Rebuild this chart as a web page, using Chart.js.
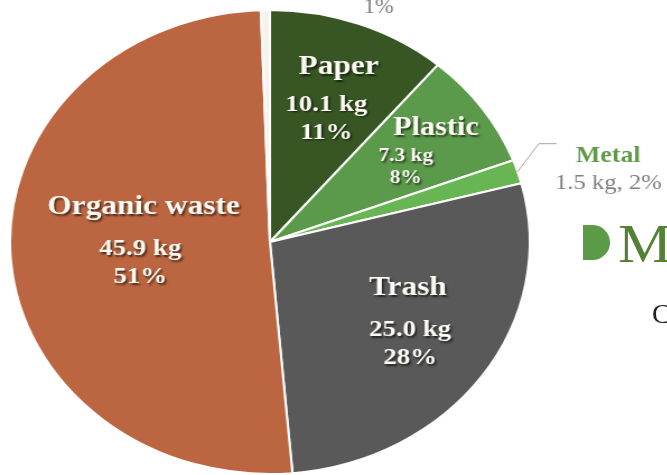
<!DOCTYPE html>
<html>
<head>
<meta charset="utf-8">
<script src="https://cdn.jsdelivr.net/npm/chart.js@4.4.0/dist/chart.umd.min.js"></script>
<style>
  html, body { margin: 0; padding: 0; background: #fff; }
  body { width: 667px; height: 475px; overflow: hidden; position: relative; font-family: 'Liberation Serif', 'Times New Roman', serif; }
  #wrap { position: absolute; left: 0; top: 0; width: 596px; height: 475px; transform: scaleX(1.12); transform-origin: 0 0; }
  .pieIcon { position: absolute; left: 583px; top: 225px; width: 27px; height: 35px; background: #5b9a46; border-radius: 0 18px 18px 0 / 0 18px 18px 0; }
  .bigM { position: absolute; left: 618px; top: 217px; font-size: 54px; line-height: 54px; color: #548235; white-space: nowrap; transform: scaleX(1.12); transform-origin: 0 0; }
  .bigC { position: absolute; left: 652px; top: 300px; font-size: 28px; line-height: 28px; color: #222; white-space: nowrap; }
</style>
</head>
<body>
<div id="wrap"><canvas id="wasteChart"></canvas></div>
<div class="pieIcon"></div>
<div class="bigM">M</div>
<div class="bigC">C</div>
<script>
// Waste composition (kg), clockwise from 12 o'clock
const categories = ['Paper', 'Plastic', 'Metal', 'Trash', 'Organic waste', ''];
const weights = [10.1, 7.3, 1.5, 25.0, 45.9, 0.5];
const sliceColors = ['#375623', '#5c9a4b', '#67b553', '#595959', '#bb6640', '#f8f3ea'];

const serif = "'Liberation Serif', 'Times New Roman', serif";

// how each slice gets labelled
const labelStyle = [
    { mode: 'in', f: 0.63, nameSize: 28, numSize: 24, nameDx: 11, nameDy: -38, pctDy: 28 },
    { mode: 'in', f: 0.64, nameSize: 27, numSize: 19, nameDx: 27, nameDy: -28, pctDy: 22 },
    { mode: 'out', elbowDx: 19, elbowDy: -28, lineEnd: 35, textDx: 81, nameDy: -10, numDy: 17 },
    { mode: 'in', f: 0.66, nameSize: 28, numSize: 24, nameDx: -2, nameDy: -42, pctDy: 28 },
    { mode: 'in', f: 0.50, nameSize: 28, numSize: 24, nameDx: 3, nameDy: -42, pctDy: 28 },
    { mode: 'top', textDx: 101, textDy: 3 }
];

const total = weights.reduce((a, b) => a + b, 0);

const sliceLabels = {
    id: 'sliceLabels',
    afterDatasetsDraw(chart) {
        const ctx = chart.ctx;
        const arcs = chart.getDatasetMeta(0).data;
        arcs.forEach((arc, i) => {
            const s = labelStyle[i];
            const mid = (arc.startAngle + arc.endAngle) / 2;
            const r = arc.outerRadius;
            const pct = Math.round(weights[i] / total * 100) + '%';
            const kg = weights[i].toFixed(1) + ' kg';
            ctx.save();
            ctx.textAlign = 'center';
            ctx.textBaseline = 'middle';
            if (s.mode === 'in') {
                const x = arc.x + Math.cos(mid) * r * s.f;
                const y = arc.y + Math.sin(mid) * r * s.f;
                ctx.fillStyle = '#fdfbf4';
                ctx.shadowColor = 'rgba(0,0,0,0.6)';
                ctx.shadowOffsetX = 1.5;
                ctx.shadowOffsetY = 1.5;
                ctx.shadowBlur = 2;
                ctx.font = 'bold ' + s.nameSize + 'px ' + serif;
                ctx.fillText(categories[i], x + s.nameDx, y + s.nameDy);
                ctx.font = 'bold ' + s.numSize + 'px ' + serif;
                ctx.fillText(kg, x, y);
                ctx.fillText(pct, x, y + s.pctDy);
            } else if (s.mode === 'out') {
                const ex = arc.x + Math.cos(mid) * r;
                const ey = arc.y + Math.sin(mid) * r;
                ctx.strokeStyle = '#a6a6a6';
                ctx.lineWidth = 1;
                ctx.beginPath();
                ctx.moveTo(ex, ey);
                ctx.lineTo(ex + s.elbowDx, ey + s.elbowDy);
                ctx.lineTo(ex + s.lineEnd, ey + s.elbowDy);
                ctx.stroke();
                ctx.textBaseline = 'alphabetic';
                ctx.fillStyle = '#5e9a4a';
                ctx.font = 'bold 23px ' + serif;
                ctx.fillText(categories[i], ex + s.textDx, ey + s.nameDy);
                ctx.fillStyle = '#7f7f7f';
                ctx.font = '22px ' + serif;
                ctx.fillText(kg + ', ' + pct, ex + s.textDx, ey + s.numDy);
            } else {
                const ex = arc.x + Math.cos(mid) * r;
                const ey = arc.y + Math.sin(mid) * r;
                ctx.textBaseline = 'alphabetic';
                ctx.fillStyle = '#7f7f7f';
                ctx.font = '20px ' + serif;
                ctx.fillText(pct, ex + s.textDx, ey + s.textDy);
            }
            ctx.restore();
        });
    }
};

new Chart(document.getElementById('wasteChart'), {
    type: 'pie',
    data: {
        labels: categories,
        datasets: [{
            data: weights,
            backgroundColor: sliceColors,
            borderColor: '#ffffff',
            borderWidth: 2
        }]
    },
    options: {
        responsive: true,
        maintainAspectRatio: false,
        animation: false,
        layout: { padding: { left: 8, top: 9, right: 122, bottom: 0 } },
        plugins: {
            legend: { display: false },
            tooltip: { enabled: false }
        }
    },
    plugins: [sliceLabels]
});
</script>
</body>
</html>
